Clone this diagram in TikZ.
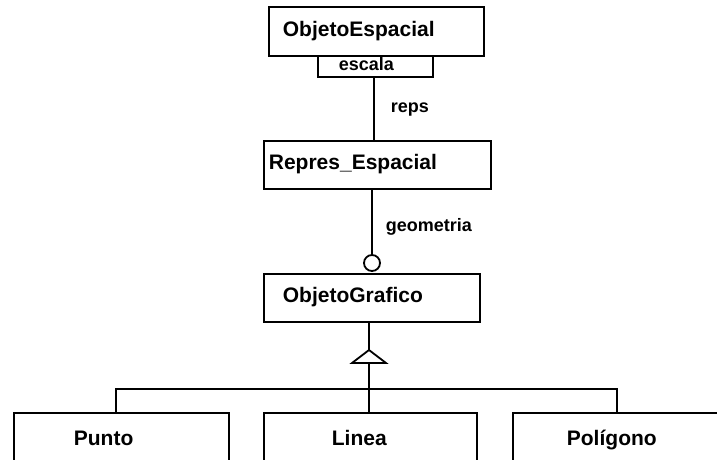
\documentclass[tikz,border=0pt]{standalone}
\usepackage{fontspec}
\setmainfont{Liberation Sans}
\begin{document}
\begin{tikzpicture}[x=1pt, y=-1pt,
  line width=1.8pt,
  cls/.style={draw, rectangle, anchor=north west, inner ysep=0pt, align=left,
    font=\fontsize{21}{24}\selectfont\bfseries},
  attr/.style={draw, rectangle, anchor=north west, inner ysep=0pt, align=left,
    font=\fontsize{18}{20}\selectfont\bfseries},
  lbl/.style={anchor=west, inner sep=0pt, font=\fontsize{18}{20}\selectfont\bfseries},
  agg/.style={draw, circle, fill=white, minimum size=16pt, inner sep=0pt},
]
\useasboundingbox (0,0) rectangle (717,459);
\clip (0,0) rectangle (717,459);

% classes
\node[cls, inner xsep=14pt, text width=187pt, minimum height=49pt] (objesp) at (268,6) {\strut ObjetoEspacial};
\node[attr, inner xsep=21pt, text width=73pt, minimum height=21pt] (escala) at (317,55) {\strut escala};
\node[cls, inner xsep=5pt, text width=217pt, minimum height=48pt] (repres) at (263,140) {\strut Repres\_Espacial};
\node[cls, inner xsep=19pt, text width=178pt, minimum height=48pt] (objgraf) at (263,273) {\strut ObjetoGrafico};
\node[cls, inner xsep=60pt, text width=95pt, minimum height=56pt] (punto) at (13,412) {\strut Punto};
\node[cls, inner xsep=68pt, text width=77pt, minimum height=56pt] (linea) at (263,412) {\strut Linea};
\node[cls, inner xsep=54pt, text width=120pt, minimum height=56pt] (poligono) at (512,412) {\strut Polígono};

% association ObjetoEspacial -- Repres_Espacial
\coordinate (repsx) at (374,0);
\draw (escala.south -| repsx) -- (repres.north -| repsx);
\node[lbl] (reps) at (390,110) {reps};

% aggregation Repres_Espacial -- ObjetoGrafico
\node[agg] (circ) at (372,263) {};
\draw (circ |- repres.south) -- (circ.north);
\node[lbl] (geom) at (385,227) {geometria};

% generalization ObjetoGrafico <- Punto, Linea, Polígono
\coordinate (apex) at (369,350);
\coordinate (base) at (369,363);
\coordinate (jl) at (116,389);
\coordinate (jr) at (617,389);
\draw (objgraf.south -| apex) -- (apex);
\draw[line join=miter] (apex) -- ++(-17,13) -- ++(34,0) -- cycle;
\draw (base) -- (linea.north -| base);
\draw (punto.north -| jl) -- (jl) -- (jr) -- (poligono.north -| jr);
\end{tikzpicture}
\end{document}
